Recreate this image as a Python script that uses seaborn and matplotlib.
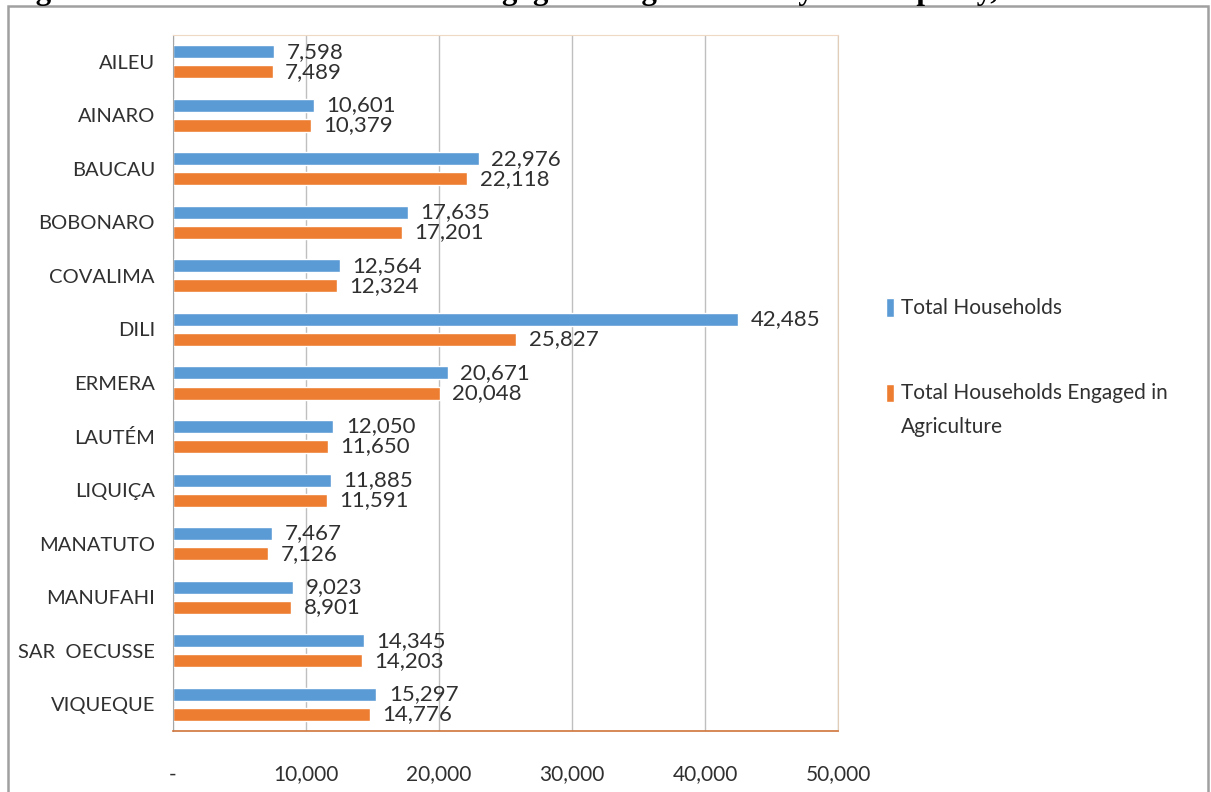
import textwrap

import numpy as np
import pandas as pd
import matplotlib
matplotlib.use('Agg')
import matplotlib.pyplot as plt
import seaborn as sns
from matplotlib.patches import Rectangle
from matplotlib.ticker import FuncFormatter

# data
municipalities = ['AILEU', 'AINARO', 'BAUCAU', 'BOBONARO', 'COVALIMA', 'DILI', 'ERMERA',
                  'LAUTÉM', 'LIQUIÇA', 'MANATUTO', 'MANUFAHI', 'SAR  OECUSSE', 'VIQUEQUE']
total_households = [7598, 10601, 22976, 17635, 12564, 42485, 20671,
                    12050, 11885, 7467, 9023, 14345, 15297]
agri_households = [7489, 10379, 22118, 17201, 12324, 25827, 20048,
                   11650, 11591, 7126, 8901, 14203, 14776]
series_names = ['Total Households', 'Total Households Engaged in Agriculture']
x_ticks = [0, 10000, 20000, 30000, 40000, 50000]
title = 'Figure 12: Number of Households Engaged in Agriculture by Municipality, 2015'

BLUE = '#5B9BD5'
ORANGE = '#ED7D31'
TEXT = '#303030'


def build_frame():
    """
    long format table for seaborn
    """
    df1 = pd.DataFrame({'municipality': municipalities, 'households': total_households,
                        'series': series_names[0]})
    df2 = pd.DataFrame({'municipality': municipalities, 'households': agri_households,
                        'series': series_names[1]})
    return pd.concat([df1, df2], ignore_index=True)


def main():
    sns.set_style('white')
    plt.rcParams['font.family'] = ['Lato', 'DejaVu Sans']

    data = build_frame()
    fig = plt.figure(figsize=(12.11, 7.92), dpi=100)
    ax = fig.add_axes([173 / 1211, 61 / 792, 665 / 1211, 696 / 792])

    sns.barplot(data=data, y='municipality', x='households', hue='series', orient='h',
                palette=[BLUE, ORANGE], saturation=1, width=0.75, gap=0.35,
                order=municipalities, hue_order=series_names, ax=ax)

    # value labels at the end of each bar
    for cont in ax.containers:
        ax.bar_label(cont, fmt='{:,.0f}', padding=9, fontsize=16, color=TEXT)

    ax.set_xlim(0, 50000)
    ax.set_xticks(x_ticks)
    ax.xaxis.set_major_formatter(FuncFormatter(lambda v, p: '-' if v == 0 else '{:,.0f}'.format(v)))
    ax.set_xlabel('')
    ax.set_ylabel('')
    ax.xaxis.grid(True, color='#BFBFBF', lw=1)
    ax.set_axisbelow(True)

    ax.tick_params(axis='x', length=7, width=1, color='#C87040', pad=17,
                   labelsize=15, labelcolor=TEXT)
    ax.tick_params(axis='y', which='major', length=0, pad=13, labelsize=14.5, labelcolor=TEXT)
    ax.set_yticks(np.arange(-0.5, len(municipalities)), minor=True)
    ax.tick_params(axis='y', which='minor', length=6, width=1, color='#A6A6A6')

    ax.spines['left'].set_color('#A6A6A6')
    ax.spines['bottom'].set_color('#D0743A')
    ax.spines['bottom'].set_linewidth(1.2)
    ax.spines['top'].set_color('#F0D9C4')
    ax.spines['right'].set_color('#E2CDB8')

    # legend outside on the right
    handles, labels = ax.get_legend_handles_labels()
    labels = [textwrap.fill(s, 27) for s in labels]
    leg = ax.legend(handles, labels, loc='upper left', bbox_to_anchor=(886 / 1211, 1 - 298 / 792),
                    bbox_transform=fig.transFigure, frameon=False, fontsize=15,
                    handlelength=0.4, handleheight=1.0, handletextpad=0.3,
                    labelspacing=3.1, borderpad=0, borderaxespad=0, labelcolor=TEXT)
    for t in leg.get_texts():
        t.set_linespacing(1.9)
    # put the second key next to the first line of its wrapped label
    h2 = leg.legend_handles[1]
    h2.set_y(h2.get_y() + 13)

    # outer chart border and the cut-off title above it
    fig.patches.append(Rectangle((8 / 1211, -0.01), 1200 / 1211, 1 - 6 / 792 + 0.01,
                                 transform=fig.transFigure, fill=False,
                                 edgecolor='#A0A0A0', lw=1.8))
    fig.text(8 / 1211, 1 + 1 / 792, title, ha='left', va='baseline', fontsize=22.3,
             fontweight='bold', family=['Liberation Serif', 'DejaVu Serif'], color='black')

    fig.savefig('out.png', dpi=100)


if __name__ == '__main__':
    main()
